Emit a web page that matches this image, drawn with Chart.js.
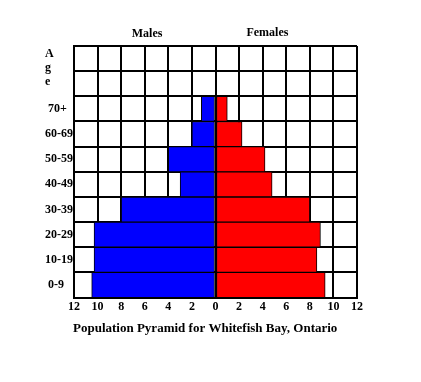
<!DOCTYPE html>
<html>
<head>
<meta charset="utf-8">
<script src="https://cdn.jsdelivr.net/npm/chart.js@4"></script>
<style>
  html, body { margin: 0; padding: 0; background: #ffffff; }
  #wrap { width: 421px; height: 382px; position: relative; }
</style>
</head>
<body>
<div id="wrap"><canvas id="c" width="421" height="382"></canvas></div>
<script>
// ---- data ----
const ageGroups = ['', '', '70+', '60-69', '50-59', '40-49', '30-39', '20-29', '10-19', '0-9'];
const males =   [null, null, 1.2, 2.0, 4.0, 3.0, 8.0, 10.3, 10.3, 10.5];
const females = [null, null, 1.0, 2.25, 4.2, 4.8, 8.0, 8.9, 8.6, 9.3];
const axisLetters = ['A', 'g', 'e'];
const seriesNames = ['Males', 'Females'];
const chartTitle = 'Population Pyramid for Whitefish Bay, Ontario';
const xMin = -12, xMax = 12, xStep = 2;

const FONT = "'Liberation Serif', 'Times New Roman', serif";

const extraText = {
  id: 'extraText',
  afterDraw(chart) {
    const ctx = chart.ctx;
    const x = chart.scales.x;
    ctx.save();
    ctx.fillStyle = '#000';
    ctx.font = 'bold 12px ' + FONT;
    ctx.textBaseline = 'middle';
    ctx.textAlign = 'center';
    // series headings
    ctx.fillText(seriesNames[0], x.getPixelForValue(-5.8), chart.chartArea.top - 12);
    ctx.fillText(seriesNames[1], x.getPixelForValue(4.4), chart.chartArea.top - 13);
    // stacked "Age" letters
    ctx.textAlign = 'left';
    const top = chart.chartArea.top;
    axisLetters.forEach((ch, i) => {
      ctx.fillText(ch, 45, top + 8 + i * 14);
    });
    // bottom title
    ctx.font = 'bold 13px ' + FONT;
    ctx.fillText(chartTitle, chart.chartArea.left - 1, 329);
    ctx.restore();
  }
};

new Chart(document.getElementById('c'), {
  type: 'bar',
  data: {
    labels: ageGroups,
    datasets: [
      {
        label: seriesNames[0],
        data: males.map(v => v === null ? null : -v),
        backgroundColor: '#0000ff',
        borderColor: '#000000',
        borderWidth: 1,
        borderSkipped: false
      },
      {
        label: seriesNames[1],
        data: females,
        backgroundColor: '#ff0000',
        borderColor: '#000000',
        borderWidth: 1,
        borderSkipped: false
      }
    ]
  },
  options: {
    indexAxis: 'y',
    responsive: false,
    animation: false,
    devicePixelRatio: 1,
    layout: { padding: { left: 45, right: 64, top: 46, bottom: 66 } },
    plugins: {
      legend: { display: false },
      tooltip: { enabled: false },
      title: { display: false }
    },
    datasets: { bar: { categoryPercentage: 1.0, barPercentage: 1.0 } },
    scales: {
      x: {
        type: 'linear',
        stacked: true,
        min: xMin, max: xMax,
        z: 1,
        ticks: {
          stepSize: xStep,
          color: '#000',
          padding: 2,
          font: { family: FONT, size: 12, weight: 'bold' },
          callback: v => String(Math.abs(v)),
          maxRotation: 0,
          autoSkip: false
        },
        grid: { color: '#000', lineWidth: 2, drawTicks: false },
        border: { display: true, color: '#000', width: 2 }
      },
      y: {
        stacked: true,
        z: 1,
        afterFit(scale) { scale.width = 29; },
        ticks: {
          color: '#000',
          crossAlign: 'far',
          padding: 3,
          font: { family: FONT, size: 12, weight: 'bold' },
          callback: function (val, i) {
            const l = ageGroups[i];
            return l.length <= 3 && l.length > 0 ? ' ' + l : l;
          },
          autoSkip: false
        },
        grid: { color: '#000', lineWidth: 2, drawTicks: false, offset: true },
        border: { display: true, color: '#000', width: 2 }
      }
    }
  },
  plugins: [extraText]
});
</script>
</body>
</html>
